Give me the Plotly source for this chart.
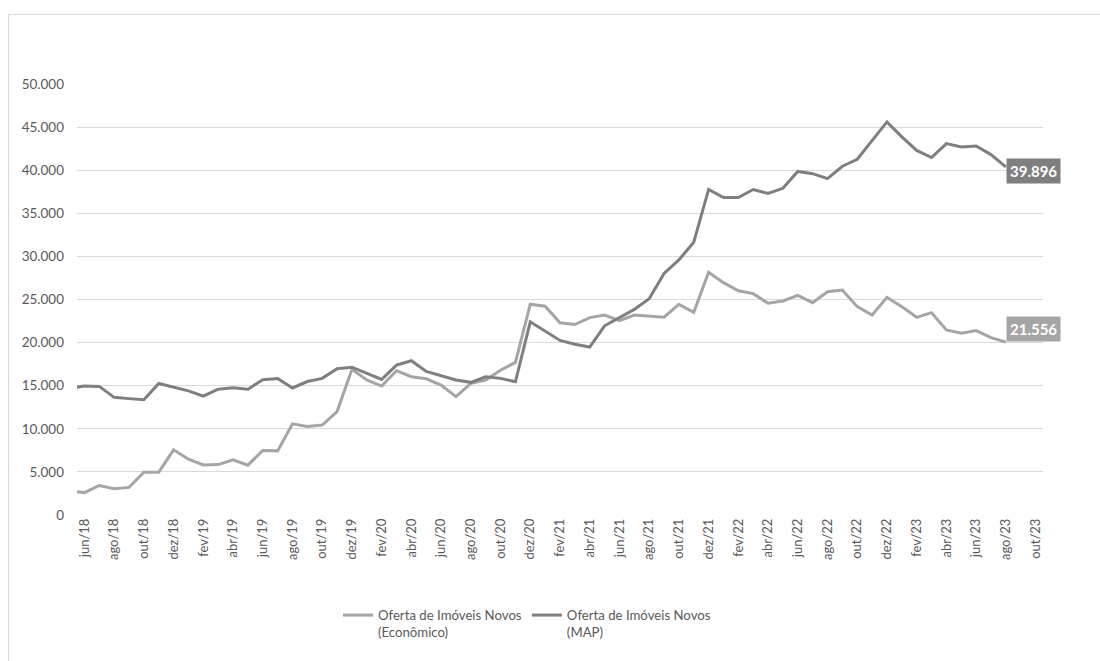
import plotly.graph_objects as go

# Month labels (mai/18 is only partly visible at the left edge; set/23 and out/23 have no data)
months = [
    "mai/18", "jun/18", "jul/18", "ago/18", "set/18", "out/18", "nov/18", "dez/18",
    "jan/19", "fev/19", "mar/19", "abr/19", "mai/19", "jun/19", "jul/19", "ago/19",
    "set/19", "out/19", "nov/19", "dez/19", "jan/20", "fev/20", "mar/20", "abr/20",
    "mai/20", "jun/20", "jul/20", "ago/20", "set/20", "out/20", "nov/20", "dez/20",
    "jan/21", "fev/21", "mar/21", "abr/21", "mai/21", "jun/21", "jul/21", "ago/21",
    "set/21", "out/21", "nov/21", "dez/21", "jan/22", "fev/22", "mar/22", "abr/22",
    "mai/22", "jun/22", "jul/22", "ago/22", "set/22", "out/22", "nov/22", "dez/22",
    "jan/23", "fev/23", "mar/23", "abr/23", "mai/23", "jun/23", "jul/23", "ago/23",
    "set/23", "out/23",
]

economico = [
    2800, 2600, 3420, 3050, 3200, 4960, 4970, 7560,
    6470, 5800, 5850, 6400, 5780, 7480, 7440, 10580,
    10270, 10430, 12000, 16900, 15660, 14960, 16740, 16040,
    15800, 15080, 13730, 15270, 15660, 16800, 17700, 24460,
    24230, 22300, 22100, 22900, 23200, 22550, 23200, 23090,
    22950, 24440, 23510, 28150, 26950, 26020, 25680, 24560,
    24830, 25480, 24630, 25900, 26100, 24170, 23200, 25250,
    24170, 22930, 23470, 21470, 21080, 21390, 20580, 20050,
]

map_series = [
    14700, 14970, 14920, 13650, 13500, 13380, 15250, 14850,
    14400, 13780, 14600, 14760, 14600, 15700, 15830, 14740,
    15480, 15850, 16970, 17150, 16430, 15730, 17390, 17900,
    16660, 16120, 15660, 15390, 16040, 15850, 15450, 22410,
    21300, 20250, 19800, 19480, 21950, 22900, 23850, 25100,
    28020, 29590, 31650, 37770, 36830, 36830, 37760, 37300,
    37900, 39860, 39600, 39030, 40460, 41270, 43470, 45600,
    43860, 42300, 41470, 43090, 42700, 42800, 41810, 40390,
]

series_names = [
    "Oferta de Imóveis Novos<br>(Econômico)",
    "Oferta de Imóveis Novos<br>(MAP)",
]
end_labels = [21556, 39896]
y_ticks = [0, 5000, 10000, 15000, 20000, 25000, 30000, 35000, 40000, 45000, 50000]

colors = ["#a5a5a5", "#7f7f7f"]
text_color = "#595959"
grid_color = "#d9d9d9"
font_family = "Lato, 'Open Sans', sans-serif"

# numeric position of each month: jun/18 = 0
xpos = list(range(-1, len(months) - 1))

fig = go.Figure()
for name, vals, col in zip(series_names, [economico, map_series], colors):
    fig.add_trace(go.Scatter(
        x=xpos[:len(vals)], y=vals, mode="lines", name=name,
        line=dict(color=col, width=3), hoverinfo="skip",
    ))

# end-of-series data labels
last_x = xpos[len(map_series) - 1]
for val, col in zip(end_labels, colors):
    fig.add_annotation(
        x=last_x, y=val, xref="x", yref="y",
        text="<b>" + f"{val:,}".replace(",", ".") + "</b>",
        showarrow=False, xanchor="left", yanchor="middle",
        bgcolor=col, borderpad=3,
        font=dict(color="white", size=15, family=font_family),
    )

tick_idx = list(range(1, len(months), 2))
fig.update_xaxes(
    range=[-0.5, 64.5],
    tickmode="array",
    tickvals=[xpos[i] for i in tick_idx],
    ticktext=[months[i] for i in tick_idx],
    tickangle=-90,
    showgrid=False, zeroline=False, showline=False,
    ticks="", tickfont=dict(color=text_color, size=13, family=font_family),
)
fig.update_yaxes(
    range=[0, 50000],
    tickmode="array", tickvals=y_ticks,
    tickformat=",d",
    showgrid=True, gridcolor=grid_color, gridwidth=1,
    zeroline=False, showline=False, ticks="",
    ticklabelstandoff=12,
    tickfont=dict(color=text_color, size=13.5, family=font_family),
)

# outer chart frame
L, R, T, B = 77, 57, 84, 146
W, H = 1100, 661
pw, ph = W - L - R, H - T - B
fig.add_shape(
    type="rect", xref="paper", yref="paper",
    x0=(8.5 - L) / pw, x1=(W + 10 - L) / pw,
    y0=(H - B - (H + 10)) / ph, y1=(H - B - 14.5) / ph,
    line=dict(color=grid_color, width=1), fillcolor="rgba(0,0,0,0)",
    layer="below",
)

fig.update_layout(
    width=W, height=H,
    margin=dict(l=L, r=R, t=T, b=B),
    paper_bgcolor="white", plot_bgcolor="white",
    separators=",.",
    showlegend=True,
    legend=dict(
        orientation="h", x=(338 - L) / pw, xanchor="left",
        y=(H - B - 600) / ph, yanchor="top",
        font=dict(color=text_color, size=13.2, family=font_family),
        itemwidth=30, valign="top", traceorder="normal",
    ),
    font=dict(family=font_family, color=text_color),
)

fig.write_html("out.html")
